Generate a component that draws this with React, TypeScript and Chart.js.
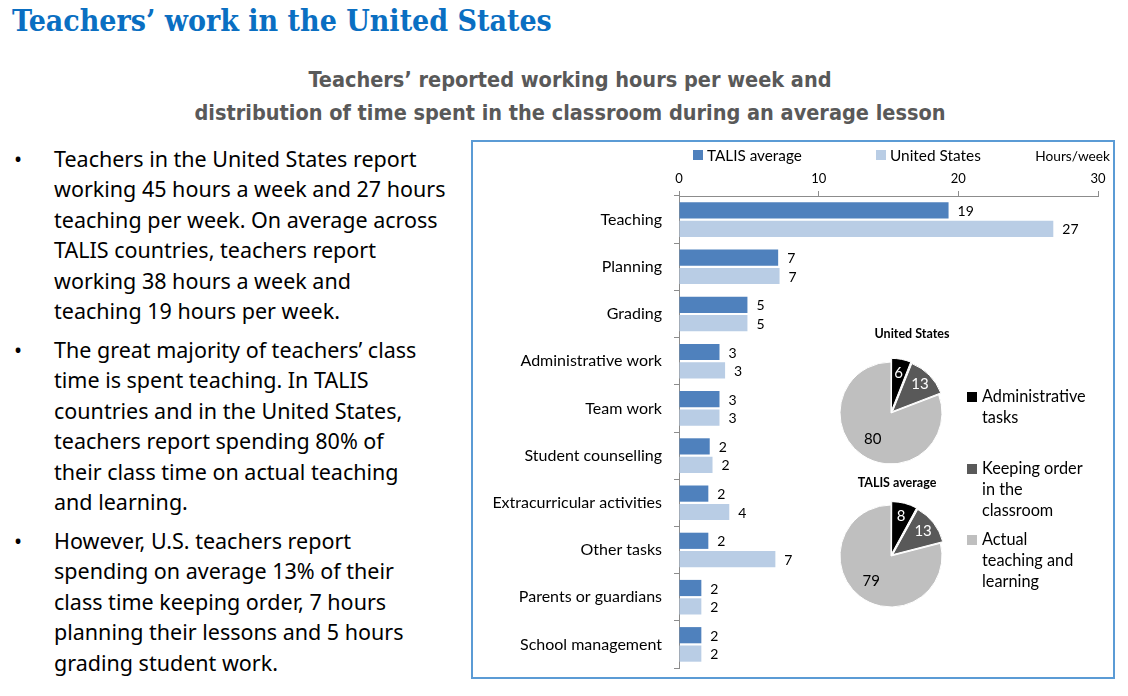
import React, { useEffect, useRef } from "react";
import { Chart, registerables } from "chart.js";

Chart.register(...registerables);

// ---- data ----
const categories = [
  "Teaching",
  "Planning",
  "Grading",
  "Administrative work",
  "Team work",
  "Student counselling",
  "Extracurricular activities",
  "Other tasks",
  "Parents or guardians",
  "School management",
];
const talisHours = [19.3, 7.1, 4.9, 2.9, 2.9, 2.2, 2.1, 2.1, 1.6, 1.6];
const usHours = [26.8, 7.2, 4.9, 3.3, 2.9, 2.4, 3.6, 6.9, 1.6, 1.6];
const xTickValues = [0, 10, 20, 30];

const pieCategories = [
  "Administrative tasks",
  "Keeping order in the classroom",
  "Actual teaching and learning",
];
const usShares = [6, 13, 80];
const talisShares = [8, 13, 79];

const bullets = [
  [
    "Teachers in the United States report",
    "working 45 hours a week and 27 hours",
    "teaching per week. On average across",
    "TALIS countries, teachers report",
    "working 38 hours a week and",
    "teaching 19 hours per week.",
  ],
  [
    "The great majority of teachers’ class",
    "time is spent teaching. In TALIS",
    "countries and in the United States,",
    "teachers report spending 80% of",
    "their class time on actual teaching",
    "and learning.",
  ],
  [
    "However, U.S. teachers report",
    "spending on average 13% of their",
    "class time keeping order, 7 hours",
    "planning their lessons and 5 hours",
    "grading student work.",
  ],
];

const TALIS_COLOR = "#4f81bd";
const US_COLOR = "#b9cde5";
const PIE_COLORS = ["#000000", "#595959", "#bfbfbf"];
const PIE_TEXT = ["#ffffff", "#ffffff", "#000000"];
const AXIS_COLOR = "#8c8c8c";
const CHART_FONT = "Lato";

const barValueLabels = {
  id: "barValueLabels",
  afterDatasetsDraw(chart: any) {
    const ctx = chart.ctx;
    ctx.save();
    ctx.font = `14px ${CHART_FONT}`;
    ctx.fillStyle = "#000";
    ctx.textAlign = "left";
    ctx.textBaseline = "middle";
    chart.data.datasets.forEach((ds: any, i: number) => {
      const meta = chart.getDatasetMeta(i);
      meta.data.forEach((el: any, j: number) => {
        ctx.fillText(String(Math.round(ds.data[j])), el.x + 9, el.y + 1);
      });
    });
    ctx.restore();
  },
};

const pieValueLabels = {
  id: "pieValueLabels",
  afterDatasetsDraw(chart: any) {
    const ctx = chart.ctx;
    ctx.save();
    ctx.font = `15px ${CHART_FONT}`;
    ctx.textAlign = "center";
    ctx.textBaseline = "middle";
    const ds = chart.data.datasets[0];
    const meta = chart.getDatasetMeta(0);
    meta.data.forEach((el: any, j: number) => {
      const mid = (el.startAngle + el.endAngle) / 2;
      const off = (el.options && el.options.offset) || 0;
      const r = el.outerRadius * (j === 2 ? 0.63 : 0.62) + off;
      ctx.fillStyle = PIE_TEXT[j];
      ctx.fillText(String(ds.data[j]), el.x + Math.cos(mid) * r, el.y + Math.sin(mid) * r);
    });
    ctx.restore();
  },
};

function BarChart() {
  const ref = useRef<HTMLCanvasElement | null>(null);
  useEffect(() => {
    if (!ref.current) return;
    const chart = new Chart(ref.current, {
      type: "bar",
      data: {
        labels: categories,
        datasets: [
          {
            label: "TALIS average",
            data: talisHours,
            backgroundColor: TALIS_COLOR,
            categoryPercentage: 0.78,
            barPercentage: 0.88,
          },
          {
            label: "United States",
            data: usHours,
            backgroundColor: US_COLOR,
            categoryPercentage: 0.78,
            barPercentage: 0.88,
          },
        ],
      },
      options: {
        indexAxis: "y",
        animation: false,
        responsive: true,
        maintainAspectRatio: false,
        events: [],
        layout: { padding: { left: 0, right: 17, top: 0, bottom: 11 } },
        plugins: { legend: { display: false }, tooltip: { enabled: false } },
        scales: {
          x: {
            position: "top",
            min: 0,
            max: 30,
            afterBuildTicks: (s: any) => {
              s.ticks = xTickValues.map((v) => ({ value: v }));
            },
            afterFit: (s: any) => {
              s.height = 55;
            },
            ticks: {
              color: "#000",
              font: { family: CHART_FONT, size: 13 },
              padding: 4,
              maxRotation: 0,
            },
            grid: { drawOnChartArea: false, drawTicks: true, tickLength: 5, color: AXIS_COLOR },
            border: { color: AXIS_COLOR, width: 1 },
          },
          y: {
            afterFit: (s: any) => {
              s.width = 207;
              s.paddingTop = 0;
              s.paddingBottom = 0;
            },
            ticks: { color: "#000", font: { family: CHART_FONT, size: 16 }, padding: 12 },
            grid: { drawOnChartArea: false, offset: true, tickLength: 5, color: AXIS_COLOR },
            border: { color: AXIS_COLOR, width: 1 },
          },
        },
      } as any,
      plugins: [barValueLabels],
    });
    return () => chart.destroy();
  }, []);
  return <canvas ref={ref} />;
}

function PieChart({ data }: { data: number[] }) {
  const ref = useRef<HTMLCanvasElement | null>(null);
  useEffect(() => {
    if (!ref.current) return;
    const chart = new Chart(ref.current, {
      type: "pie",
      data: {
        labels: pieCategories,
        datasets: [
          {
            data,
            backgroundColor: PIE_COLORS,
            borderColor: "#ffffff",
            borderWidth: 1,
            offset: [9, 9, 0],
          },
        ],
      },
      options: {
        animation: false,
        responsive: true,
        maintainAspectRatio: false,
        events: [],
        radius: 51,
        plugins: { legend: { display: false }, tooltip: { enabled: false } },
      } as any,
      plugins: [pieValueLabels],
    });
    return () => chart.destroy();
  }, [data]);
  return <canvas ref={ref} />;
}

const abs = (left: number, top: number, extra: React.CSSProperties = {}): React.CSSProperties => ({
  position: "absolute",
  left,
  top,
  ...extra,
});

export default function App() {
  const bodyFont = "'Noto Sans', 'Open Sans', sans-serif";
  const bulletTops = [144, 335, 526];
  const pieLegend = [
    { top: 385, lines: ["Administrative", "tasks"], color: PIE_COLORS[0] },
    { top: 457, lines: ["Keeping order", "in the", "classroom"], color: PIE_COLORS[1] },
    { top: 528, lines: ["Actual", "teaching and", "learning"], color: PIE_COLORS[2] },
  ];
  return (
    <div
      style={{
        position: "absolute",
        left: 0,
        top: 0,
        width: 1128,
        height: 696,
        background: "#fff",
        overflow: "hidden",
        fontFamily: bodyFont,
      }}
    >
      {/* Title */}
      <div
        style={abs(12, 2, {
          fontFamily: "'DejaVu Serif Condensed', 'DejaVu Serif', serif",
          fontStretch: "condensed",
          fontWeight: 700,
          fontSize: 30,
          lineHeight: "38px",
          color: "#0a6fc2",
          whiteSpace: "nowrap",
        })}
      >
        Teachers’ work in the United States
      </div>

      {/* Subtitle */}
      <div
        style={abs(170, 63, {
          width: 800,
          textAlign: "center",
          fontFamily: "'DejaVu Sans Condensed', 'DejaVu Sans', sans-serif",
          fontStretch: "condensed",
          fontWeight: 700,
          fontSize: 21.5,
          lineHeight: "33px",
          color: "#595959",
          whiteSpace: "nowrap",
        })}
      >
        <div>Teachers’ reported working hours per week and</div>
        <div>distribution of time spent in the classroom during an average lesson</div>
      </div>

      {/* Bullets */}
      {bullets.map((lines, i) => (
        <div key={i} style={abs(0, bulletTops[i], { width: 470 })}>
          <div style={abs(14, 0, { fontSize: 21.5, lineHeight: "30.4px", color: "#000" })}>•</div>
          <div
            style={abs(54, 0, {
              fontSize: 21.5,
              lineHeight: "30.4px",
              color: "#000",
              whiteSpace: "nowrap",
            })}
          >
            {lines.map((l, j) => (
              <div key={j}>{l}</div>
            ))}
          </div>
        </div>
      ))}

      {/* Chart box */}
      <div
        style={abs(471, 140, {
          width: 644,
          height: 539,
          boxSizing: "border-box",
          border: "2px solid #5b9bd5",
        })}
      />
      <div style={abs(472, 141, { width: 643, height: 538 })}>
        <BarChart />
      </div>

      {/* Bar legend */}
      <div style={abs(693, 150, { width: 10, height: 10, background: TALIS_COLOR })} />
      <div style={abs(707, 145, { fontFamily: CHART_FONT, fontSize: 15.3, lineHeight: "20px", color: "#000" })}>
        TALIS average
      </div>
      <div style={abs(876, 150, { width: 10, height: 10, background: US_COLOR })} />
      <div style={abs(890, 145, { fontFamily: CHART_FONT, fontSize: 15.4, lineHeight: "20px", color: "#000" })}>
        United States
      </div>
      <div
        style={abs(1010, 147, {
          width: 100,
          textAlign: "right",
          fontFamily: CHART_FONT,
          fontSize: 13.7,
          lineHeight: "18px",
          color: "#000",
        })}
      >
        Hours/week
      </div>

      {/* Pie titles */}
      <div
        style={abs(852, 325, {
          width: 120,
          textAlign: "center",
          fontFamily: CHART_FONT,
          fontWeight: 700,
          fontSize: 12.5,
          lineHeight: "17px",
          color: "#000",
        })}
      >
        United States
      </div>
      <div
        style={abs(837, 474, {
          width: 120,
          textAlign: "center",
          fontFamily: CHART_FONT,
          fontWeight: 700,
          fontSize: 12.5,
          lineHeight: "17px",
          color: "#000",
        })}
      >
        TALIS average
      </div>

      {/* Pies */}
      <div style={abs(816, 338, { width: 150, height: 150 })}>
        <PieChart data={usShares} />
      </div>
      <div style={abs(816, 481, { width: 150, height: 150 })}>
        <PieChart data={talisShares} />
      </div>

      {/* Pie legend */}
      {pieLegend.map((item, i) => (
        <React.Fragment key={i}>
          <div style={abs(967, item.top + 7, { width: 10, height: 10, background: item.color })} />
          <div
            style={abs(982, item.top, {
              fontFamily: CHART_FONT,
              fontSize: 16.3,
              lineHeight: "21px",
              color: "#000",
              whiteSpace: "nowrap",
            })}
          >
            {item.lines.map((l, j) => (
              <div key={j}>{l}</div>
            ))}
          </div>
        </React.Fragment>
      ))}
    </div>
  );
}
